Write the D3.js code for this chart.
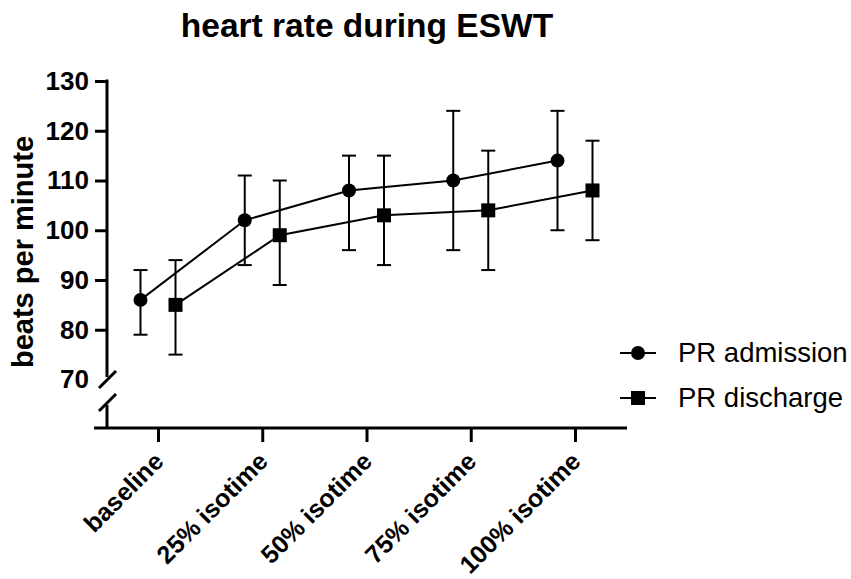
<!DOCTYPE html>
<html>
<head>
<meta charset="utf-8">
<script src="https://cdn.jsdelivr.net/npm/d3@7"></script>
<style>
  body { margin: 0; background: #fff; }
  svg { font-family: "Liberation Sans", Arial, sans-serif; }
</style>
</head>
<body>
<svg width="851" height="579"></svg>
<script>
const categories = ['baseline', '25% isotime', '50% isotime', '75% isotime', '100% isotime'];
const admissionMean = [86, 102, 108, 110, 114];
const admissionLow  = [79, 93, 96, 96, 100];
const admissionHigh = [92, 111, 115, 124, 124];
const dischargeMean = [85, 99, 103, 104, 108];
const dischargeLow  = [75, 89, 93, 92, 98];
const dischargeHigh = [94, 110, 115, 116, 118];
const yTicks = [70, 80, 90, 100, 110, 120, 130];

const svg = d3.select('svg');

const x = d3.scalePoint().domain(categories).range([158, 575]);
const y = d3.scaleLinear().domain([70, 130]).range([379.5, 81]);
const OFFSET = 17.5;
const AXIS_Y = 428, AXIS_X = 107;

// title
svg.append('text')
    .attr('x', 367).attr('y', 37)
    .attr('text-anchor', 'middle')
    .attr('font-size', 33.5).attr('font-weight', 'bold')
    .text('heart rate during ESWT');

// y axis label
svg.append('text')
    .attr('transform', 'translate(33,252) rotate(-90)')
    .attr('text-anchor', 'middle')
    .attr('font-size', 29).attr('font-weight', 'bold')
    .text('beats per minute');

// y axis (with a break below 70)
const yAxis = svg.append('g')
    .attr('transform', `translate(${AXIS_X},0)`)
    .call(d3.axisLeft(y).tickValues(yTicks).tickSize(12).tickPadding(6));
yAxis.select('.domain').remove();
yAxis.selectAll('.tick line').attr('stroke', '#000').attr('stroke-width', 3);
yAxis.selectAll('.tick').filter(d => d === 70).select('line').remove();
yAxis.selectAll('.tick text')
    .attr('font-size', 26).attr('font-weight', 'bold')
    .attr('font-family', '"Liberation Sans", Arial, sans-serif')
    .attr('fill', '#000');

svg.append('line')
    .attr('x1', AXIS_X).attr('x2', AXIS_X)
    .attr('y1', y(130) - 1.5).attr('y2', 377)
    .attr('stroke', '#000').attr('stroke-width', 3);
svg.append('line')
    .attr('x1', AXIS_X).attr('x2', AXIS_X)
    .attr('y1', 405).attr('y2', AXIS_Y)
    .attr('stroke', '#000').attr('stroke-width', 3);
[380, 403].forEach(cy => {
    svg.append('line')
        .attr('x1', AXIS_X - 8).attr('y1', cy + 8)
        .attr('x2', AXIS_X + 9).attr('y2', cy - 9)
        .attr('stroke', '#000').attr('stroke-width', 3);
});

// x axis
svg.append('line')
    .attr('x1', 94).attr('x2', 627)
    .attr('y1', AXIS_Y).attr('y2', AXIS_Y)
    .attr('stroke', '#000').attr('stroke-width', 3);
const xAxis = svg.append('g')
    .attr('transform', `translate(0,${AXIS_Y})`)
    .call(d3.axisBottom(x).tickSize(14));
xAxis.select('.domain').remove();
xAxis.selectAll('.tick line').attr('stroke', '#000').attr('stroke-width', 3);
xAxis.selectAll('.tick text').remove();
svg.selectAll('.xlabel')
    .data(categories)
    .enter().append('text')
    .attr('class', 'xlabel')
    .attr('transform', d => `translate(${x(d) + 7},463) rotate(-45)`)
    .attr('text-anchor', 'end')
    .attr('font-size', 25).attr('font-weight', 'bold')
    .text(d => d);

// series
const series = [
    {name: 'PR admission', mean: admissionMean, low: admissionLow, high: admissionHigh, dx: -OFFSET, shape: 'circle'},
    {name: 'PR discharge', mean: dischargeMean, low: dischargeLow, high: dischargeHigh, dx: OFFSET, shape: 'square'}
];

function drawMarker(g, shape, cx, cy) {
    if (shape === 'circle') {
        g.append('circle').attr('cx', cx).attr('cy', cy).attr('r', 7).attr('fill', '#000');
    } else {
        g.append('rect').attr('x', cx - 7).attr('y', cy - 7)
            .attr('width', 14).attr('height', 14).attr('fill', '#000');
    }
}

const line = d3.line();
series.forEach(s => {
    const g = svg.append('g');
    const pts = categories.map((c, i) => [x(c) + s.dx, y(s.mean[i])]);
    g.append('path')
        .attr('d', line(pts))
        .attr('fill', 'none').attr('stroke', '#000').attr('stroke-width', 2);
    categories.forEach((c, i) => {
        const cx = x(c) + s.dx;
        g.append('line')
            .attr('x1', cx).attr('x2', cx)
            .attr('y1', y(s.low[i])).attr('y2', y(s.high[i]))
            .attr('stroke', '#000').attr('stroke-width', 2);
        [s.low[i], s.high[i]].forEach(v => {
            g.append('line')
                .attr('x1', cx - 7).attr('x2', cx + 7)
                .attr('y1', y(v)).attr('y2', y(v))
                .attr('stroke', '#000').attr('stroke-width', 2);
        });
        drawMarker(g, s.shape, cx, y(s.mean[i]));
    });
});

// legend
series.forEach((s, i) => {
    const ly = 353 + i * 45;
    const g = svg.append('g');
    g.append('line')
        .attr('x1', 620).attr('x2', 656)
        .attr('y1', ly).attr('y2', ly)
        .attr('stroke', '#000').attr('stroke-width', 2);
    drawMarker(g, s.shape, 638, ly);
    g.append('text')
        .attr('x', 678).attr('y', ly + 9)
        .attr('font-size', 27.5)
        .text(s.name);
});
</script>
</body>
</html>
